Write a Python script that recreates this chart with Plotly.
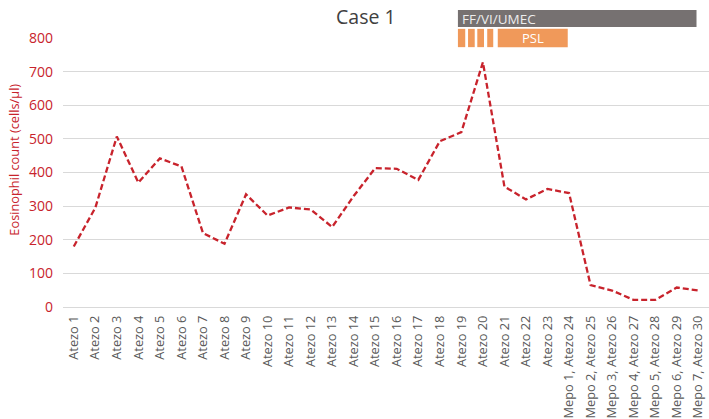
import plotly.graph_objects as go

RED = "#C8232C"
GREY_TEXT = "#595959"
GRID = "#D9D9D9"
BAR_GREY = "#767171"
BAR_ORANGE = "#F0995A"

visits = [f"Atezo {i}" for i in range(1, 24)] + [
    "Mepo 1, Atezo 24",
    "Mepo 2, Atezo 25",
    "Mepo 3, Atezo 26",
    "Mepo 4, Atezo 27",
    "Mepo 5, Atezo 28",
    "Mepo 6, Atezo 29",
    "Mepo 7, Atezo 30",
]
eosinophils = [
    180, 295, 507, 370, 442, 418, 220, 188, 335, 272,
    296, 290, 238, 330, 413, 411, 378, 493, 520, 728,
    358, 320, 351, 339, 65, 49, 21, 21, 58, 49,
]

# treatment periods, as positions on the visit axis (index of visit)
inhaler_label = "FF/VI/UMEC"
inhaler_period = (17.84, 28.92)
psl_label = "PSL"
psl_pulses = [(17.84, 18.18), (18.31, 18.62), (18.74, 19.05), (19.2, 19.48)]
psl_period = (19.69, 22.94)

fig = go.Figure()
fig.add_trace(
    go.Scatter(
        x=visits,
        y=eosinophils,
        mode="lines",
        line=dict(color=RED, width=2.3, dash="6px,3px"),
        showlegend=False,
    )
)


def bar_shape(x0, x1, y0, y1, color):
    return dict(
        type="rect",
        xref="x",
        yref="paper",
        x0=x0,
        x1=x1,
        y0=y0,
        y1=y1,
        fillcolor=color,
        line=dict(width=0),
        layer="above",
    )


shapes = [bar_shape(*inhaler_period, 1.041, 1.104, BAR_GREY)]
for start, end in psl_pulses:
    shapes.append(bar_shape(start, end, 0.966, 1.034, BAR_ORANGE))
shapes.append(bar_shape(*psl_period, 0.966, 1.034, BAR_ORANGE))

fig.update_layout(
    width=709,
    height=419,
    paper_bgcolor="white",
    plot_bgcolor="white",
    font=dict(family="Open Sans, sans-serif", color=GREY_TEXT, size=12),
    margin=dict(l=63, r=0, t=38, b=112),
    title=dict(
        text="Case 1",
        x=0.516,
        xanchor="center",
        y=0.975,
        yanchor="top",
        font=dict(size=19.5, color="#404040"),
    ),
    shapes=shapes,
    annotations=[
        dict(
            text=inhaler_label,
            xref="x",
            yref="paper",
            x=inhaler_period[0] + 0.1,
            y=1.072,
            xanchor="left",
            yanchor="middle",
            showarrow=False,
            font=dict(size=13.5, color="#EDEDED"),
        ),
        dict(
            text=psl_label,
            xref="x",
            yref="paper",
            x=(psl_period[0] + psl_period[1]) / 2,
            y=1.0,
            xanchor="center",
            yanchor="middle",
            showarrow=False,
            font=dict(size=13, color="#FFFFFF"),
        ),
        dict(
            text="Eosinophil count (cells/μl)",
            xref="paper",
            yref="paper",
            x=-0.075,
            y=0.546,
            xanchor="center",
            yanchor="middle",
            textangle=-90,
            showarrow=False,
            font=dict(size=12.8, color=RED),
        ),
    ],
)
fig.update_xaxes(
    type="category",
    range=[-0.5, 29.5],
    tickangle=-90,
    showgrid=False,
    showline=False,
    ticks="",
    ticklabelstandoff=5,
    tickfont=dict(size=12.8, color=GREY_TEXT),
)
fig.update_yaxes(
    range=[0, 800],
    dtick=100,
    showgrid=True,
    gridcolor=GRID,
    gridwidth=1,
    zeroline=True,
    zerolinecolor=GRID,
    zerolinewidth=1,
    ticks="",
    ticklabelstandoff=9,
    tickfont=dict(size=14, color=RED),
)

fig.write_html(
    "out.html",
    config={"displayModeBar": False},
    post_script="document.body.style.margin = '0';",
)
